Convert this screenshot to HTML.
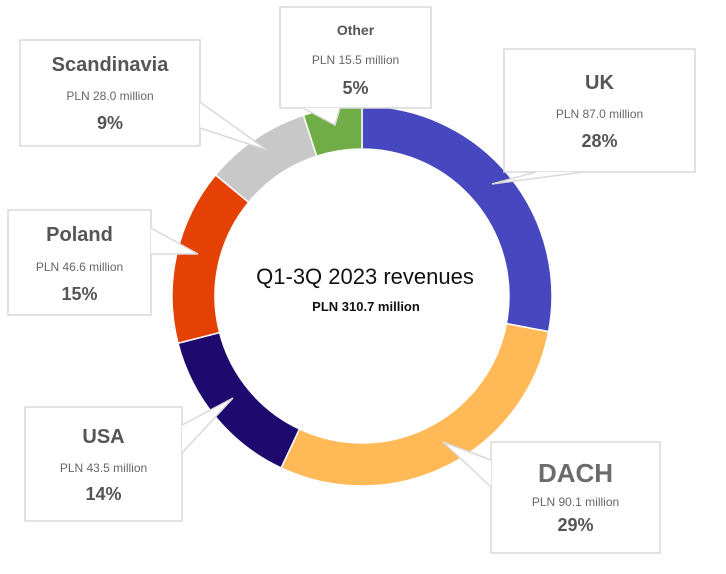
<!DOCTYPE html>
<html><head><meta charset="utf-8"><style>
body{margin:0;background:#fff;}
svg{display:block;font-family:"Liberation Sans",sans-serif;}
</style></head><body>
<svg id="chart" width="726" height="574" viewBox="0 0 726 574">
<g id="ring"></g>
<g id="callouts"></g>
<text x="365" y="284" text-anchor="middle" font-size="22" fill="#111">Q1-3Q 2023 revenues</text>
<text x="366" y="311" text-anchor="middle" font-size="13" font-weight="bold" fill="#111">PLN 310.7 million</text>
</svg>
<script>
const categories = ["UK","DACH","USA","Poland","Scandinavia","Other"];
const values = [87.0, 90.1, 43.5, 46.6, 28.0, 15.5];
const percents = ["28%","29%","14%","15%","9%","5%"];
const colors = ["#4747BF","#FFB957","#1E0A6E","#E64105","#C8C8C8","#70AD47"];
const NS="http://www.w3.org/2000/svg";
const cx=362, cy=296, R=190, r=147;
const total=values.reduce((a,b)=>a+b,0);
function pt(rad,a){return [cx+rad*Math.sin(a), cy-rad*Math.cos(a)];}
const ring=document.getElementById('ring');
let acc=0;
values.forEach((v,i)=>{
  const a0=acc/total*2*Math.PI; acc+=v; const a1=acc/total*2*Math.PI;
  const large=(a1-a0)>Math.PI?1:0;
  const p0=pt(R,a0),p1=pt(R,a1),q1=pt(r,a1),q0=pt(r,a0);
  const p=document.createElementNS(NS,'path');
  p.setAttribute('d',`M${p0} A${R},${R} 0 ${large} 1 ${p1} L${q1} A${r},${r} 0 ${large} 0 ${q0} Z`);
  p.setAttribute('fill',colors[i]);
  p.setAttribute('stroke','#fff');
  p.setAttribute('stroke-width','1.5');
  
  
  ring.appendChild(p);
});
// callout boxes: [x,y,w,h, titleY, pnlY, pctY, titleSize, pointer]
const boxes = {
  "UK":[504,49,191,123,89,118,147,20,[[536,172],[492,184],[583,172]],"Liberation Sans"],
  "DACH":[491,442,169,111,482,506,531,26,[[491,460],[443,442],[491,487]],"Liberation Sans Narrow"],
  "USA":[25,407,157,114,443,472,500,20,[[182,425],[233,398],[182,453]],"Liberation Sans Narrow"],
  "Poland":[8,210,143,105,241,271,300,20,[[151,228],[198,254],[151,254]],"Liberation Sans"],
  "Scandinavia":[20,40,180,106,71,100,129,20,[[200,102],[267,150],[200,128]],"Liberation Sans"],
  "Other":[280,7,151,101,35,64,94,14,[[303,108],[335,125],[340,108]],"Liberation Sans"]
};
const cg=document.getElementById('callouts');
categories.forEach((c,i)=>{
  const b=boxes[c];
  const g=document.createElementNS(NS,'g');
  
  
  const rect=document.createElementNS(NS,'rect');
  rect.setAttribute('x',b[0]);rect.setAttribute('y',b[1]);rect.setAttribute('width',b[2]);rect.setAttribute('height',b[3]);
  rect.setAttribute('fill','#fff');rect.setAttribute('stroke','#d9d9d9');rect.setAttribute('stroke-width','1.5');
  
  
  g.appendChild(rect);
  const ptr=b[8];
  const poly=document.createElementNS(NS,'polygon');
  poly.setAttribute('points',ptr.map(p=>p.join(',')).join(' '));
  poly.setAttribute('fill','#fff');
  
  
  g.appendChild(poly);
  const pl=document.createElementNS(NS,'polyline');
  pl.setAttribute('points',ptr.map(p=>p.join(',')).join(' '));
  pl.setAttribute('fill','none');pl.setAttribute('stroke','#d9d9d9');pl.setAttribute('stroke-width','1.5');
  
  
  g.appendChild(pl);
  const mx=b[0]+b[2]/2;
  const t1=document.createElementNS(NS,'text');
  t1.setAttribute('x',mx);t1.setAttribute('y',b[4]);t1.setAttribute('text-anchor','middle');
  t1.setAttribute('font-size',b[7]);t1.setAttribute('font-weight','bold');t1.setAttribute('fill',c==="DACH"?'#6b6b6b':'#555');
  t1.setAttribute('font-family',b[9]+', "Liberation Sans", sans-serif');
  t1.textContent=c;
  
  
  g.appendChild(t1);
  const t2=document.createElementNS(NS,'text');
  t2.setAttribute('x',mx);t2.setAttribute('y',b[5]);t2.setAttribute('text-anchor','middle');
  t2.setAttribute('font-size','12');t2.setAttribute('fill','#666');
  t2.textContent='PLN '+values[i].toFixed(1)+' million';
  
  
  g.appendChild(t2);
  const t3=document.createElementNS(NS,'text');
  t3.setAttribute('x',mx);t3.setAttribute('y',b[6]);t3.setAttribute('text-anchor','middle');
  t3.setAttribute('font-size','18');t3.setAttribute('font-weight','bold');t3.setAttribute('fill','#555');
  t3.textContent=percents[i];
  
  
  g.appendChild(t3);
  cg.appendChild(g);
});
</script>
</body></html>
